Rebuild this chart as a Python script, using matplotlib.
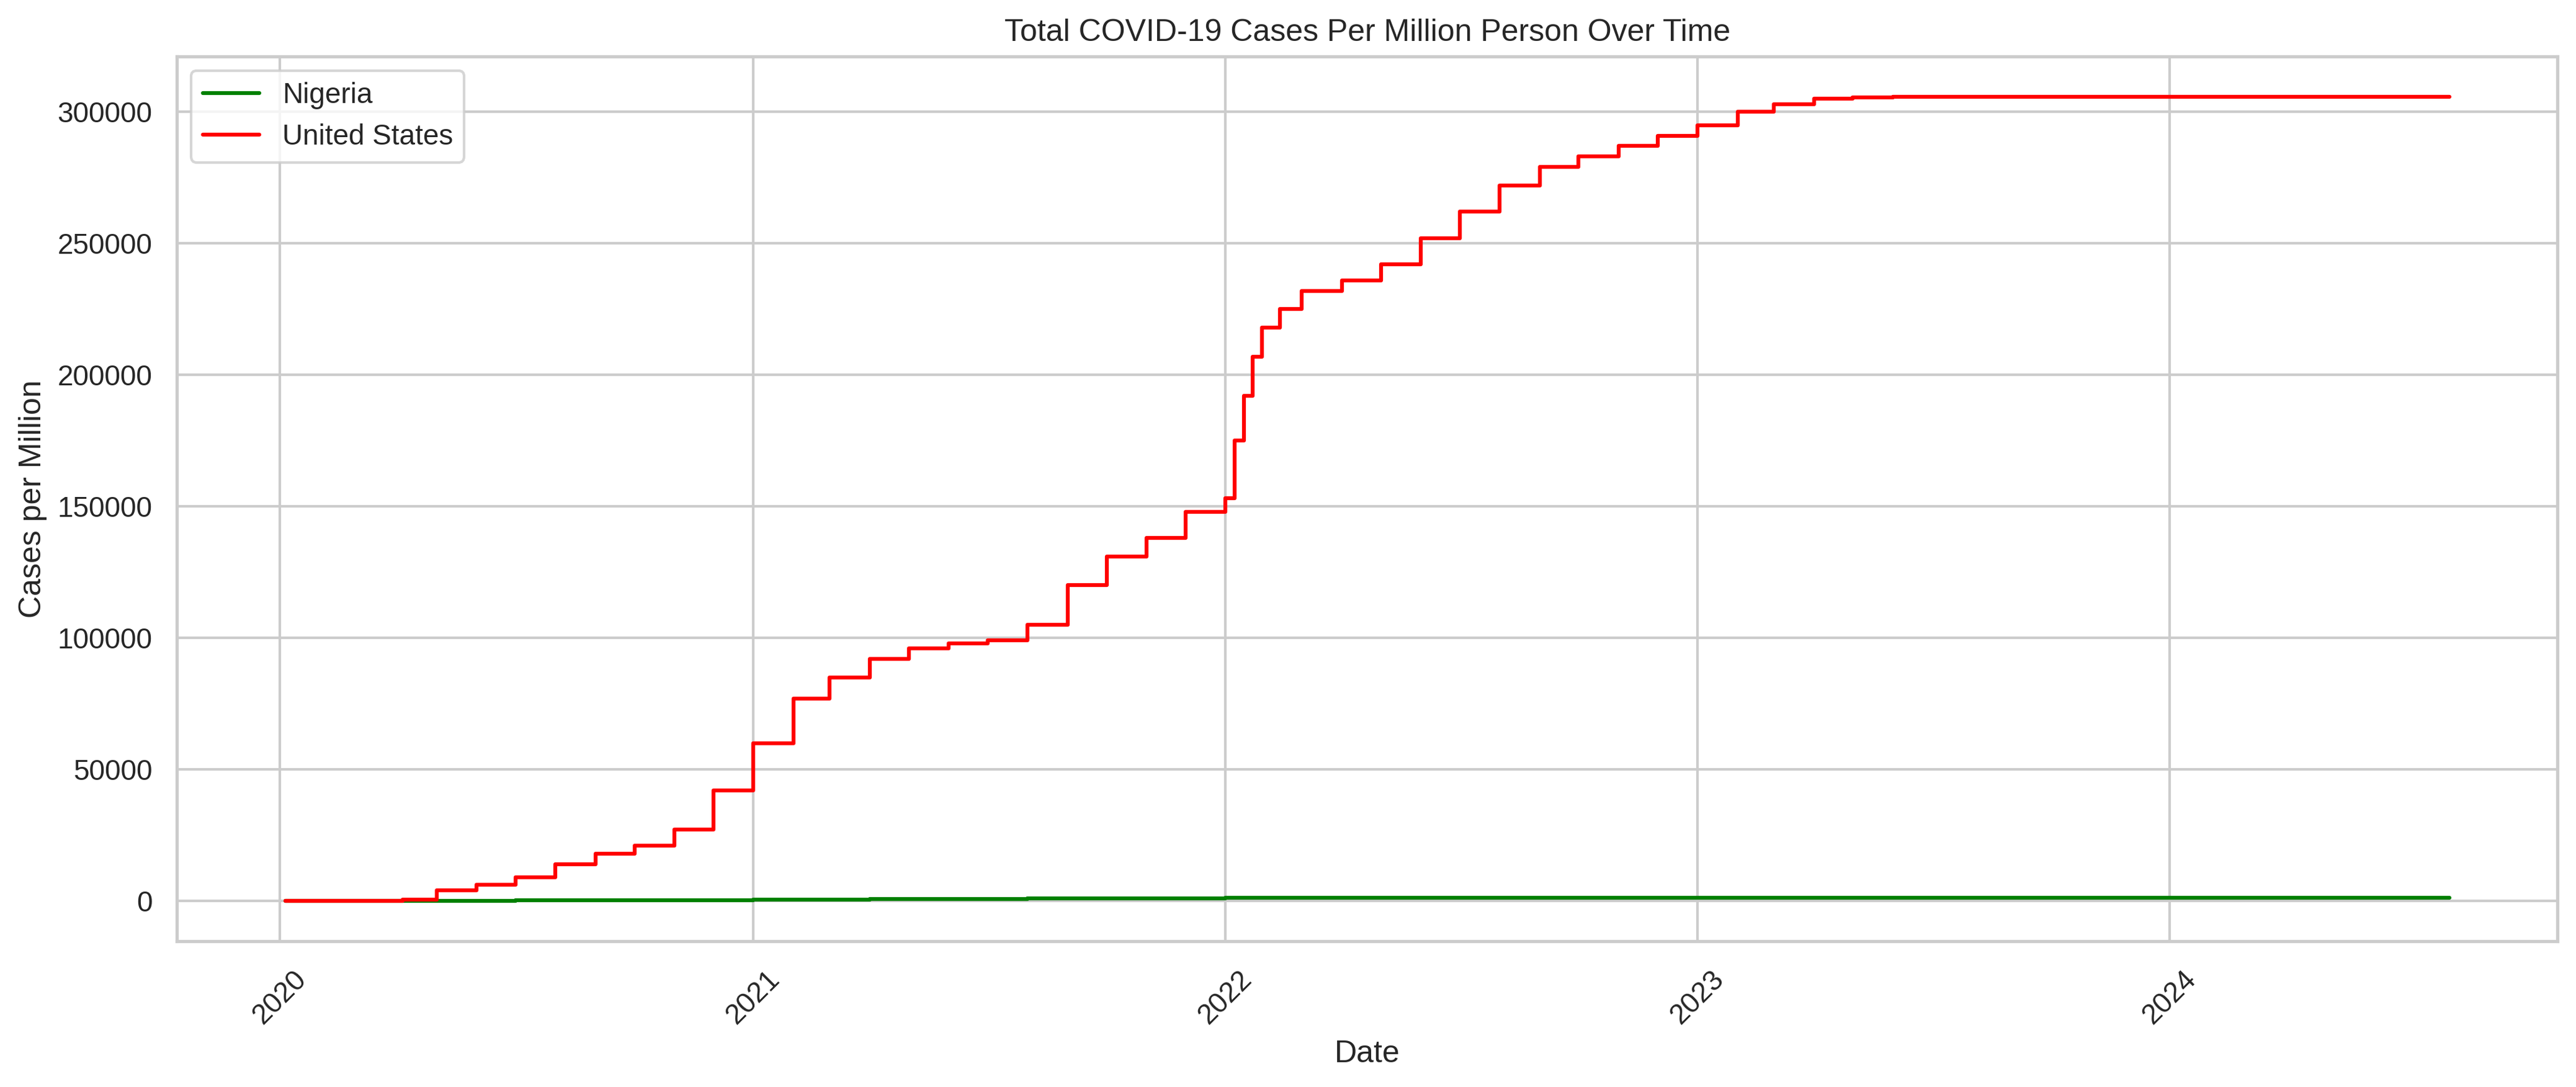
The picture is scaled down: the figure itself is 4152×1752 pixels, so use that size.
import numpy as np
import pandas as pd
import matplotlib
matplotlib.use('Agg')
import matplotlib.pyplot as plt
import seaborn as sns

us_dates = ['2020-01-05', '2020-02-01', '2020-03-01', '2020-04-05', '2020-05-01', '2020-06-01',
            '2020-07-01', '2020-08-01', '2020-09-01', '2020-10-01', '2020-11-01', '2020-12-01',
            '2021-01-01', '2021-02-01', '2021-03-01', '2021-04-01', '2021-05-01', '2021-06-01',
            '2021-07-01', '2021-08-01', '2021-09-01', '2021-10-01', '2021-11-01', '2021-12-01',
            '2022-01-01', '2022-01-08', '2022-01-15', '2022-01-22', '2022-01-29', '2022-02-12',
            '2022-03-01', '2022-04-01', '2022-05-01', '2022-06-01', '2022-07-01', '2022-08-01',
            '2022-09-01', '2022-10-01', '2022-11-01', '2022-12-01', '2023-01-01', '2023-02-01',
            '2023-03-01', '2023-04-01', '2023-05-01', '2023-06-01', '2024-08-04']
us_cases = [0, 0, 0, 500, 4000, 6000,
            9000, 14000, 18000, 21000, 27000, 42000,
            60000, 77000, 85000, 92000, 96000, 98000,
            99000, 105000, 120000, 131000, 138000, 148000,
            153000, 175000, 192000, 207000, 218000, 225000,
            232000, 236000, 242000, 252000, 262000, 272000,
            279000, 283000, 287000, 291000, 295000, 300000,
            303000, 305000, 305500, 305800, 305800]

ng_dates = ['2020-01-05', '2020-04-05', '2020-07-01', '2020-10-01', '2021-01-01', '2021-04-01',
            '2021-08-01', '2022-01-01', '2023-01-01', '2024-08-04']
ng_cases = [0, 10, 150, 300, 450, 780, 850, 1100, 1210, 1220]

sns.set_theme(style='whitegrid')
plt.rcParams['font.family'] = ['Arial', 'Liberation Sans', 'DejaVu Sans']

fig, ax = plt.subplots(figsize=(14, 6), dpi=300)
ax.plot(pd.to_datetime(ng_dates), ng_cases, color='green', label='Nigeria', drawstyle='steps-post')
ax.plot(pd.to_datetime(us_dates), us_cases, color='red', label='United States', drawstyle='steps-post')
ax.set_title('Total COVID-19 Cases Per Million Person Over Time')
ax.set_xlabel('Date')
ax.set_ylabel('Cases per Million')
ax.legend(loc='upper left')
plt.xticks(rotation=45)
plt.tight_layout()
plt.savefig('out.png', dpi=300, bbox_inches='tight')
